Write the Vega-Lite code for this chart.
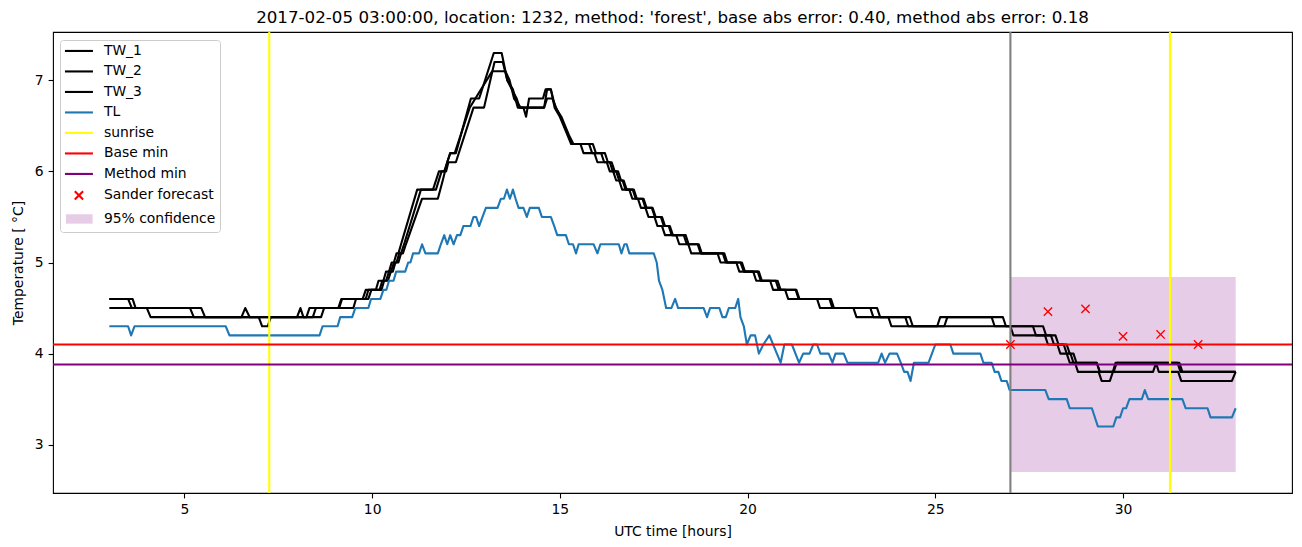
{
"$schema": "https://vega.github.io/schema/vega-lite/v6.json",
"width": 1239, "height": 461,
"autosize": {"type": "none"},
"padding": {"left": 53, "top": 32, "right": 10, "bottom": 54},
"background": "white",
"config": {
 "font": "DejaVu Sans",
 "view": {"stroke": "black", "strokeWidth": 1.1},
 "axis": {"grid": false, "domain": false, "tickColor": "black", "tickSize": 4.9, "tickWidth": 1.1, "labelFontSize": 13.9, "labelColor": "black", "labelPadding": 4.9, "titleFontSize": 13.9, "titleFontWeight": "normal", "titleColor": "black", "labelFont": "DejaVu Sans", "titleFont": "DejaVu Sans"}
},
"title": {"text": "2017-02-05 03:00:00, location: 1232, method: 'forest', base abs error: 0.40, method abs error: 0.18", "fontSize": 16.7, "fontWeight": "normal", "anchor": "middle", "frame": "group", "baseline": "alphabetic", "offset": -8.3, "color": "black", "font": "DejaVu Sans"},
"datasets": {
 "lines": [
{"s":"TW_1","t":3.0,"v":4.5},{"s":"TW_1","t":4.0,"v":4.5},{"s":"TW_1","t":4.1,"v":4.4},{"s":"TW_1","t":6.52,"v":4.4},{"s":"TW_1","t":6.62,"v":4.5},{"s":"TW_1","t":6.74,"v":4.4},{"s":"TW_1","t":8.25,"v":4.4},{"s":"TW_1","t":8.33,"v":4.5},{"s":"TW_1","t":9.1,"v":4.5},{"s":"TW_1","t":9.18,"v":4.6},{"s":"TW_1","t":9.75,"v":4.6},{"s":"TW_1","t":9.83,"v":4.7},{"s":"TW_1","t":10.1,"v":4.7},{"s":"TW_1","t":10.17,"v":4.8},{"s":"TW_1","t":10.3,"v":4.8},{"s":"TW_1","t":10.37,"v":4.9},{"s":"TW_1","t":10.45,"v":4.9},{"s":"TW_1","t":10.52,"v":5.0},{"s":"TW_1","t":10.58,"v":5.0},{"s":"TW_1","t":10.65,"v":5.1},{"s":"TW_1","t":10.7,"v":5.1},{"s":"TW_1","t":10.77,"v":5.2},{"s":"TW_1","t":11.2,"v":5.8},{"s":"TW_1","t":11.62,"v":5.8},{"s":"TW_1","t":11.78,"v":6.0},{"s":"TW_1","t":11.92,"v":6.0},{"s":"TW_1","t":12.0,"v":6.1},{"s":"TW_1","t":12.08,"v":6.2},{"s":"TW_1","t":12.23,"v":6.2},{"s":"TW_1","t":12.63,"v":6.8},{"s":"TW_1","t":12.85,"v":6.8},{"s":"TW_1","t":13.24,"v":7.3},{"s":"TW_1","t":13.45,"v":7.3},{"s":"TW_1","t":13.6,"v":7.0},{"s":"TW_1","t":13.72,"v":6.9},{"s":"TW_1","t":13.85,"v":6.8},{"s":"TW_1","t":13.93,"v":6.7},{"s":"TW_1","t":14.03,"v":6.7},{"s":"TW_1","t":14.1,"v":6.6},{"s":"TW_1","t":14.18,"v":6.8},{"s":"TW_1","t":14.55,"v":6.8},{"s":"TW_1","t":14.62,"v":6.9},{"s":"TW_1","t":14.76,"v":6.9},{"s":"TW_1","t":14.86,"v":6.7},{"s":"TW_1","t":15.0,"v":6.6},{"s":"TW_1","t":15.1,"v":6.5},{"s":"TW_1","t":15.2,"v":6.4},{"s":"TW_1","t":15.3,"v":6.3},{"s":"TW_1","t":15.55,"v":6.3},{"s":"TW_1","t":15.63,"v":6.2},{"s":"TW_1","t":15.92,"v":6.2},{"s":"TW_1","t":16.0,"v":6.1},{"s":"TW_1","t":16.25,"v":6.1},{"s":"TW_1","t":16.33,"v":6.0},{"s":"TW_1","t":16.42,"v":6.0},{"s":"TW_1","t":16.5,"v":5.9},{"s":"TW_1","t":16.58,"v":5.9},{"s":"TW_1","t":16.66,"v":5.8},{"s":"TW_1","t":16.85,"v":5.8},{"s":"TW_1","t":16.93,"v":5.7},{"s":"TW_1","t":17.08,"v":5.7},{"s":"TW_1","t":17.16,"v":5.6},{"s":"TW_1","t":17.28,"v":5.6},{"s":"TW_1","t":17.36,"v":5.5},{"s":"TW_1","t":17.52,"v":5.5},{"s":"TW_1","t":17.6,"v":5.4},{"s":"TW_1","t":17.72,"v":5.4},{"s":"TW_1","t":17.8,"v":5.3},{"s":"TW_1","t":18.1,"v":5.3},{"s":"TW_1","t":18.18,"v":5.2},{"s":"TW_1","t":18.42,"v":5.2},{"s":"TW_1","t":18.5,"v":5.1},{"s":"TW_1","t":19.2,"v":5.1},{"s":"TW_1","t":19.28,"v":5.0},{"s":"TW_1","t":19.7,"v":5.0},{"s":"TW_1","t":19.78,"v":4.9},{"s":"TW_1","t":20.15,"v":4.9},{"s":"TW_1","t":20.23,"v":4.8},{"s":"TW_1","t":20.6,"v":4.8},{"s":"TW_1","t":20.68,"v":4.7},{"s":"TW_1","t":21.0,"v":4.7},{"s":"TW_1","t":21.08,"v":4.6},{"s":"TW_1","t":21.85,"v":4.6},{"s":"TW_1","t":21.93,"v":4.5},{"s":"TW_1","t":22.82,"v":4.5},{"s":"TW_1","t":22.9,"v":4.4},{"s":"TW_1","t":23.75,"v":4.4},{"s":"TW_1","t":23.83,"v":4.3},{"s":"TW_1","t":25.05,"v":4.3},{"s":"TW_1","t":25.13,"v":4.4},{"s":"TW_1","t":26.5,"v":4.4},{"s":"TW_1","t":26.58,"v":4.3},{"s":"TW_1","t":27.0,"v":4.3},{"s":"TW_1","t":27.08,"v":4.2},{"s":"TW_1","t":27.92,"v":4.2},{"s":"TW_1","t":28.0,"v":4.1},{"s":"TW_1","t":28.25,"v":4.1},{"s":"TW_1","t":28.33,"v":4.0},{"s":"TW_1","t":28.5,"v":4.0},{"s":"TW_1","t":28.58,"v":3.9},{"s":"TW_1","t":28.72,"v":3.9},{"s":"TW_1","t":28.8,"v":3.8},{"s":"TW_1","t":29.35,"v":3.8},{"s":"TW_1","t":29.43,"v":3.7},{"s":"TW_1","t":29.65,"v":3.7},{"s":"TW_1","t":29.73,"v":3.8},{"s":"TW_1","t":29.8,"v":3.9},{"s":"TW_1","t":31.45,"v":3.9},{"s":"TW_1","t":31.53,"v":3.8},{"s":"TW_1","t":33.0,"v":3.8},
{"s":"TW_2","t":3.0,"v":4.6},{"s":"TW_2","t":3.5,"v":4.6},{"s":"TW_2","t":3.6,"v":4.5},{"s":"TW_2","t":5.15,"v":4.5},{"s":"TW_2","t":5.25,"v":4.4},{"s":"TW_2","t":6.98,"v":4.4},{"s":"TW_2","t":7.07,"v":4.3},{"s":"TW_2","t":7.22,"v":4.3},{"s":"TW_2","t":7.3,"v":4.4},{"s":"TW_2","t":8.42,"v":4.4},{"s":"TW_2","t":8.5,"v":4.5},{"s":"TW_2","t":9.12,"v":4.5},{"s":"TW_2","t":9.2,"v":4.6},{"s":"TW_2","t":9.83,"v":4.6},{"s":"TW_2","t":9.9,"v":4.7},{"s":"TW_2","t":10.2,"v":4.7},{"s":"TW_2","t":10.27,"v":4.8},{"s":"TW_2","t":10.37,"v":4.8},{"s":"TW_2","t":10.45,"v":4.9},{"s":"TW_2","t":10.5,"v":4.9},{"s":"TW_2","t":10.58,"v":5.0},{"s":"TW_2","t":10.65,"v":5.0},{"s":"TW_2","t":10.72,"v":5.1},{"s":"TW_2","t":10.77,"v":5.1},{"s":"TW_2","t":10.85,"v":5.2},{"s":"TW_2","t":11.3,"v":5.8},{"s":"TW_2","t":11.7,"v":5.8},{"s":"TW_2","t":11.85,"v":6.0},{"s":"TW_2","t":11.97,"v":6.0},{"s":"TW_2","t":12.03,"v":6.1},{"s":"TW_2","t":12.23,"v":6.1},{"s":"TW_2","t":12.7,"v":6.7},{"s":"TW_2","t":12.98,"v":6.7},{"s":"TW_2","t":13.26,"v":7.2},{"s":"TW_2","t":13.48,"v":7.2},{"s":"TW_2","t":13.6,"v":7.0},{"s":"TW_2","t":13.75,"v":6.9},{"s":"TW_2","t":13.88,"v":6.7},{"s":"TW_2","t":14.58,"v":6.7},{"s":"TW_2","t":14.66,"v":6.8},{"s":"TW_2","t":14.8,"v":6.8},{"s":"TW_2","t":14.9,"v":6.7},{"s":"TW_2","t":15.02,"v":6.6},{"s":"TW_2","t":15.12,"v":6.5},{"s":"TW_2","t":15.22,"v":6.4},{"s":"TW_2","t":15.33,"v":6.3},{"s":"TW_2","t":15.78,"v":6.3},{"s":"TW_2","t":15.86,"v":6.2},{"s":"TW_2","t":16.1,"v":6.2},{"s":"TW_2","t":16.18,"v":6.1},{"s":"TW_2","t":16.33,"v":6.1},{"s":"TW_2","t":16.41,"v":6.0},{"s":"TW_2","t":16.5,"v":6.0},{"s":"TW_2","t":16.58,"v":5.9},{"s":"TW_2","t":16.67,"v":5.9},{"s":"TW_2","t":16.75,"v":5.8},{"s":"TW_2","t":16.94,"v":5.8},{"s":"TW_2","t":17.02,"v":5.7},{"s":"TW_2","t":17.2,"v":5.7},{"s":"TW_2","t":17.28,"v":5.6},{"s":"TW_2","t":17.45,"v":5.6},{"s":"TW_2","t":17.53,"v":5.5},{"s":"TW_2","t":17.69,"v":5.5},{"s":"TW_2","t":17.77,"v":5.4},{"s":"TW_2","t":17.9,"v":5.4},{"s":"TW_2","t":17.98,"v":5.3},{"s":"TW_2","t":18.3,"v":5.3},{"s":"TW_2","t":18.38,"v":5.2},{"s":"TW_2","t":18.67,"v":5.2},{"s":"TW_2","t":18.75,"v":5.1},{"s":"TW_2","t":19.34,"v":5.1},{"s":"TW_2","t":19.42,"v":5.0},{"s":"TW_2","t":19.81,"v":5.0},{"s":"TW_2","t":19.9,"v":4.9},{"s":"TW_2","t":20.27,"v":4.9},{"s":"TW_2","t":20.35,"v":4.8},{"s":"TW_2","t":20.75,"v":4.8},{"s":"TW_2","t":20.83,"v":4.7},{"s":"TW_2","t":21.28,"v":4.7},{"s":"TW_2","t":21.36,"v":4.6},{"s":"TW_2","t":22.18,"v":4.6},{"s":"TW_2","t":22.26,"v":4.5},{"s":"TW_2","t":23.27,"v":4.5},{"s":"TW_2","t":23.35,"v":4.4},{"s":"TW_2","t":24.2,"v":4.4},{"s":"TW_2","t":24.28,"v":4.3},{"s":"TW_2","t":25.24,"v":4.3},{"s":"TW_2","t":25.32,"v":4.4},{"s":"TW_2","t":26.8,"v":4.4},{"s":"TW_2","t":26.88,"v":4.3},{"s":"TW_2","t":27.6,"v":4.3},{"s":"TW_2","t":27.68,"v":4.2},{"s":"TW_2","t":28.08,"v":4.2},{"s":"TW_2","t":28.16,"v":4.1},{"s":"TW_2","t":28.42,"v":4.1},{"s":"TW_2","t":28.5,"v":4.0},{"s":"TW_2","t":28.6,"v":4.0},{"s":"TW_2","t":28.68,"v":3.9},{"s":"TW_2","t":29.3,"v":3.9},{"s":"TW_2","t":29.38,"v":3.8},{"s":"TW_2","t":30.8,"v":3.8},{"s":"TW_2","t":30.88,"v":3.9},{"s":"TW_2","t":30.95,"v":3.8},{"s":"TW_2","t":31.47,"v":3.8},{"s":"TW_2","t":31.55,"v":3.7},{"s":"TW_2","t":32.9,"v":3.7},{"s":"TW_2","t":33.0,"v":3.8},
{"s":"TW_3","t":3.0,"v":4.6},{"s":"TW_3","t":3.62,"v":4.6},{"s":"TW_3","t":3.7,"v":4.5},{"s":"TW_3","t":5.45,"v":4.5},{"s":"TW_3","t":5.55,"v":4.4},{"s":"TW_3","t":8.0,"v":4.4},{"s":"TW_3","t":8.09,"v":4.5},{"s":"TW_3","t":8.17,"v":4.4},{"s":"TW_3","t":8.64,"v":4.4},{"s":"TW_3","t":8.72,"v":4.5},{"s":"TW_3","t":9.5,"v":4.5},{"s":"TW_3","t":9.57,"v":4.6},{"s":"TW_3","t":9.9,"v":4.6},{"s":"TW_3","t":9.98,"v":4.7},{"s":"TW_3","t":10.25,"v":4.7},{"s":"TW_3","t":10.32,"v":4.8},{"s":"TW_3","t":10.42,"v":4.8},{"s":"TW_3","t":10.5,"v":4.9},{"s":"TW_3","t":10.55,"v":4.9},{"s":"TW_3","t":10.62,"v":5.0},{"s":"TW_3","t":10.7,"v":5.0},{"s":"TW_3","t":10.77,"v":5.1},{"s":"TW_3","t":10.82,"v":5.1},{"s":"TW_3","t":10.9,"v":5.2},{"s":"TW_3","t":11.33,"v":5.7},{"s":"TW_3","t":11.75,"v":5.7},{"s":"TW_3","t":11.88,"v":5.9},{"s":"TW_3","t":12.0,"v":6.1},{"s":"TW_3","t":12.08,"v":6.2},{"s":"TW_3","t":12.2,"v":6.2},{"s":"TW_3","t":12.6,"v":6.7},{"s":"TW_3","t":12.75,"v":6.8},{"s":"TW_3","t":13.2,"v":7.1},{"s":"TW_3","t":13.55,"v":7.1},{"s":"TW_3","t":13.66,"v":7.0},{"s":"TW_3","t":13.78,"v":6.8},{"s":"TW_3","t":13.96,"v":6.7},{"s":"TW_3","t":14.58,"v":6.7},{"s":"TW_3","t":14.66,"v":6.9},{"s":"TW_3","t":14.76,"v":6.9},{"s":"TW_3","t":14.88,"v":6.7},{"s":"TW_3","t":15.04,"v":6.6},{"s":"TW_3","t":15.14,"v":6.5},{"s":"TW_3","t":15.24,"v":6.4},{"s":"TW_3","t":15.36,"v":6.3},{"s":"TW_3","t":15.88,"v":6.3},{"s":"TW_3","t":15.96,"v":6.2},{"s":"TW_3","t":16.2,"v":6.2},{"s":"TW_3","t":16.28,"v":6.1},{"s":"TW_3","t":16.38,"v":6.1},{"s":"TW_3","t":16.46,"v":6.0},{"s":"TW_3","t":16.55,"v":6.0},{"s":"TW_3","t":16.63,"v":5.9},{"s":"TW_3","t":16.7,"v":5.9},{"s":"TW_3","t":16.78,"v":5.8},{"s":"TW_3","t":16.97,"v":5.8},{"s":"TW_3","t":17.05,"v":5.7},{"s":"TW_3","t":17.23,"v":5.7},{"s":"TW_3","t":17.31,"v":5.6},{"s":"TW_3","t":17.47,"v":5.6},{"s":"TW_3","t":17.55,"v":5.5},{"s":"TW_3","t":17.72,"v":5.5},{"s":"TW_3","t":17.8,"v":5.4},{"s":"TW_3","t":17.93,"v":5.4},{"s":"TW_3","t":18.01,"v":5.3},{"s":"TW_3","t":18.35,"v":5.3},{"s":"TW_3","t":18.43,"v":5.2},{"s":"TW_3","t":18.7,"v":5.2},{"s":"TW_3","t":18.78,"v":5.1},{"s":"TW_3","t":19.38,"v":5.1},{"s":"TW_3","t":19.46,"v":5.0},{"s":"TW_3","t":19.85,"v":5.0},{"s":"TW_3","t":19.93,"v":4.9},{"s":"TW_3","t":20.3,"v":4.9},{"s":"TW_3","t":20.38,"v":4.8},{"s":"TW_3","t":20.8,"v":4.8},{"s":"TW_3","t":20.88,"v":4.7},{"s":"TW_3","t":21.3,"v":4.7},{"s":"TW_3","t":21.38,"v":4.6},{"s":"TW_3","t":22.22,"v":4.6},{"s":"TW_3","t":22.3,"v":4.5},{"s":"TW_3","t":23.45,"v":4.5},{"s":"TW_3","t":23.53,"v":4.4},{"s":"TW_3","t":24.32,"v":4.4},{"s":"TW_3","t":24.4,"v":4.3},{"s":"TW_3","t":27.87,"v":4.3},{"s":"TW_3","t":27.95,"v":4.2},{"s":"TW_3","t":28.2,"v":4.2},{"s":"TW_3","t":28.28,"v":4.1},{"s":"TW_3","t":28.5,"v":4.1},{"s":"TW_3","t":28.58,"v":4.0},{"s":"TW_3","t":28.68,"v":4.0},{"s":"TW_3","t":28.76,"v":3.9},{"s":"TW_3","t":29.3,"v":3.9},{"s":"TW_3","t":29.38,"v":3.8},{"s":"TW_3","t":29.75,"v":3.8},{"s":"TW_3","t":29.83,"v":3.9},{"s":"TW_3","t":31.5,"v":3.9},{"s":"TW_3","t":31.58,"v":3.8},{"s":"TW_3","t":33.0,"v":3.8},
{"s":"TL","t":3.0,"v":4.3},{"s":"TL","t":3.5,"v":4.3},{"s":"TL","t":3.58,"v":4.2},{"s":"TL","t":3.67,"v":4.3},{"s":"TL","t":6.1,"v":4.3},{"s":"TL","t":6.2,"v":4.2},{"s":"TL","t":8.6,"v":4.2},{"s":"TL","t":8.68,"v":4.3},{"s":"TL","t":9.08,"v":4.3},{"s":"TL","t":9.15,"v":4.4},{"s":"TL","t":9.47,"v":4.4},{"s":"TL","t":9.55,"v":4.5},{"s":"TL","t":9.9,"v":4.5},{"s":"TL","t":9.97,"v":4.6},{"s":"TL","t":10.22,"v":4.6},{"s":"TL","t":10.3,"v":4.7},{"s":"TL","t":10.38,"v":4.7},{"s":"TL","t":10.45,"v":4.8},{"s":"TL","t":10.57,"v":4.8},{"s":"TL","t":10.64,"v":4.9},{"s":"TL","t":10.88,"v":4.9},{"s":"TL","t":10.96,"v":5.0},{"s":"TL","t":11.02,"v":5.0},{"s":"TL","t":11.09,"v":5.1},{"s":"TL","t":11.25,"v":5.1},{"s":"TL","t":11.33,"v":5.2},{"s":"TL","t":11.42,"v":5.1},{"s":"TL","t":11.75,"v":5.1},{"s":"TL","t":11.83,"v":5.2},{"s":"TL","t":11.92,"v":5.3},{"s":"TL","t":12.0,"v":5.2},{"s":"TL","t":12.08,"v":5.3},{"s":"TL","t":12.17,"v":5.2},{"s":"TL","t":12.26,"v":5.3},{"s":"TL","t":12.35,"v":5.3},{"s":"TL","t":12.43,"v":5.4},{"s":"TL","t":12.62,"v":5.4},{"s":"TL","t":12.7,"v":5.5},{"s":"TL","t":12.77,"v":5.5},{"s":"TL","t":12.85,"v":5.4},{"s":"TL","t":12.94,"v":5.5},{"s":"TL","t":13.03,"v":5.6},{"s":"TL","t":13.34,"v":5.6},{"s":"TL","t":13.43,"v":5.7},{"s":"TL","t":13.51,"v":5.7},{"s":"TL","t":13.59,"v":5.8},{"s":"TL","t":13.67,"v":5.7},{"s":"TL","t":13.75,"v":5.8},{"s":"TL","t":13.82,"v":5.7},{"s":"TL","t":13.9,"v":5.6},{"s":"TL","t":14.03,"v":5.6},{"s":"TL","t":14.12,"v":5.5},{"s":"TL","t":14.2,"v":5.6},{"s":"TL","t":14.44,"v":5.6},{"s":"TL","t":14.52,"v":5.5},{"s":"TL","t":14.76,"v":5.5},{"s":"TL","t":14.85,"v":5.4},{"s":"TL","t":14.93,"v":5.3},{"s":"TL","t":15.16,"v":5.3},{"s":"TL","t":15.24,"v":5.2},{"s":"TL","t":15.35,"v":5.2},{"s":"TL","t":15.43,"v":5.1},{"s":"TL","t":15.5,"v":5.2},{"s":"TL","t":15.9,"v":5.2},{"s":"TL","t":16.0,"v":5.1},{"s":"TL","t":16.08,"v":5.2},{"s":"TL","t":16.57,"v":5.2},{"s":"TL","t":16.64,"v":5.1},{"s":"TL","t":16.72,"v":5.2},{"s":"TL","t":16.78,"v":5.2},{"s":"TL","t":16.85,"v":5.1},{"s":"TL","t":17.5,"v":5.1},{"s":"TL","t":17.58,"v":5.0},{"s":"TL","t":17.64,"v":4.8},{"s":"TL","t":17.73,"v":4.7},{"s":"TL","t":17.83,"v":4.5},{"s":"TL","t":17.97,"v":4.5},{"s":"TL","t":18.07,"v":4.6},{"s":"TL","t":18.15,"v":4.5},{"s":"TL","t":18.83,"v":4.5},{"s":"TL","t":18.92,"v":4.4},{"s":"TL","t":19.0,"v":4.5},{"s":"TL","t":19.25,"v":4.5},{"s":"TL","t":19.33,"v":4.4},{"s":"TL","t":19.42,"v":4.4},{"s":"TL","t":19.5,"v":4.5},{"s":"TL","t":19.67,"v":4.5},{"s":"TL","t":19.75,"v":4.6},{"s":"TL","t":19.81,"v":4.4},{"s":"TL","t":19.9,"v":4.3},{"s":"TL","t":19.98,"v":4.1},{"s":"TL","t":20.08,"v":4.2},{"s":"TL","t":20.2,"v":4.2},{"s":"TL","t":20.3,"v":4.0},{"s":"TL","t":20.42,"v":4.1},{"s":"TL","t":20.58,"v":4.2},{"s":"TL","t":20.68,"v":4.1},{"s":"TL","t":20.78,"v":4.0},{"s":"TL","t":20.88,"v":3.9},{"s":"TL","t":20.98,"v":4.1},{"s":"TL","t":21.18,"v":4.1},{"s":"TL","t":21.37,"v":3.9},{"s":"TL","t":21.48,"v":4.0},{"s":"TL","t":21.65,"v":4.0},{"s":"TL","t":21.75,"v":4.1},{"s":"TL","t":21.85,"v":4.1},{"s":"TL","t":21.94,"v":4.0},{"s":"TL","t":22.16,"v":4.0},{"s":"TL","t":22.26,"v":3.9},{"s":"TL","t":22.34,"v":4.0},{"s":"TL","t":22.56,"v":4.0},{"s":"TL","t":22.66,"v":3.9},{"s":"TL","t":23.48,"v":3.9},{"s":"TL","t":23.57,"v":4.0},{"s":"TL","t":23.66,"v":3.9},{"s":"TL","t":23.78,"v":4.0},{"s":"TL","t":23.98,"v":4.0},{"s":"TL","t":24.08,"v":3.9},{"s":"TL","t":24.17,"v":3.8},{"s":"TL","t":24.26,"v":3.8},{"s":"TL","t":24.34,"v":3.7},{"s":"TL","t":24.43,"v":3.9},{"s":"TL","t":24.82,"v":3.9},{"s":"TL","t":24.91,"v":4.0},{"s":"TL","t":25.0,"v":4.1},{"s":"TL","t":25.4,"v":4.1},{"s":"TL","t":25.48,"v":4.0},{"s":"TL","t":26.2,"v":4.0},{"s":"TL","t":26.28,"v":3.9},{"s":"TL","t":26.5,"v":3.9},{"s":"TL","t":26.58,"v":3.8},{"s":"TL","t":26.68,"v":3.8},{"s":"TL","t":26.76,"v":3.7},{"s":"TL","t":26.9,"v":3.7},{"s":"TL","t":26.98,"v":3.6},{"s":"TL","t":27.93,"v":3.6},{"s":"TL","t":28.02,"v":3.5},{"s":"TL","t":28.5,"v":3.5},{"s":"TL","t":28.58,"v":3.4},{"s":"TL","t":29.17,"v":3.4},{"s":"TL","t":29.33,"v":3.2},{"s":"TL","t":29.74,"v":3.2},{"s":"TL","t":29.82,"v":3.3},{"s":"TL","t":29.92,"v":3.3},{"s":"TL","t":30.0,"v":3.4},{"s":"TL","t":30.08,"v":3.4},{"s":"TL","t":30.17,"v":3.5},{"s":"TL","t":30.5,"v":3.5},{"s":"TL","t":30.58,"v":3.6},{"s":"TL","t":30.67,"v":3.5},{"s":"TL","t":31.58,"v":3.5},{"s":"TL","t":31.67,"v":3.4},{"s":"TL","t":32.25,"v":3.4},{"s":"TL","t":32.33,"v":3.3},{"s":"TL","t":32.9,"v":3.3},{"s":"TL","t":33.0,"v":3.4}
 ]
},
"layer": [
 {
  "data": {"values": [{"t0": 27, "t1": 33, "lo": 2.7, "hi": 4.84}]},
  "mark": {"type": "rect", "fill": "#800080", "fillOpacity": 0.2, "strokeWidth": 0},
  "encoding": {
   "x": {"field": "t0", "type": "quantitative", "scale": {"domain": [1.5, 34.5], "nice": false, "zero": false}},
   "x2": {"field": "t1"},
   "y": {"field": "lo", "type": "quantitative", "scale": {"domain": [2.47, 7.53], "nice": false, "zero": false}},
   "y2": {"field": "hi"}
  }
 },
 {
  "data": {"name": "lines"},
  "mark": {"type": "line", "strokeWidth": 2.1, "strokeJoin": "round"},
  "encoding": {
   "x": {"field": "t", "type": "quantitative", "scale": {"domain": [1.5, 34.5], "nice": false, "zero": false},
         "axis": {"values": [5, 10, 15, 20, 25, 30], "format": "d", "title": "UTC time [hours]", "titlePadding": 8}},
   "y": {"field": "v", "type": "quantitative", "scale": {"domain": [2.47, 7.53], "nice": false, "zero": false},
         "axis": {"values": [3, 4, 5, 6, 7], "format": "d", "title": "Temperature [ °C]", "titlePadding": 9}},
   "color": {"field": "s", "type": "nominal",
     "scale": {"domain": ["TW_1", "TW_2", "TW_3", "TL", "sunrise", "Base min", "Method min", "Sander forecast", "95% confidence"],
               "range": ["#000000", "#000000", "#000000", "#1f77b4", "#ffff00", "#ff0000", "#800080", "#ff0000", "transparent"]},
     "legend": {"title": null, "orient": "none", "legendX": 7, "legendY": 8, "padding": 4, "rowPadding": 5.5,
       "labelFontSize": 13.9, "labelFont": "DejaVu Sans", "labelColor": "black", "labelOffset": 26, "labelLimit": 300,
       "symbolSize": 100, "symbolStrokeWidth": 2.1, "strokeColor": "#cccccc", "fillColor": "rgba(255,255,255,0.8)", "cornerRadius": 3}
   }
  }
 },
 {
  "data": {"values": []},
  "mark": {"type": "point", "opacity": 1, "filled": false},
  "encoding": {
   "shape": {"field": "s", "type": "nominal",
     "scale": {"domain": ["TW_1", "TW_2", "TW_3", "TL", "sunrise", "Base min", "Method min", "Sander forecast", "95% confidence"],
               "range": ["M-1.2,0H4.4", "M-1.2,0H4.4", "M-1.2,0H4.4", "M-1.2,0H4.4", "M-1.2,0H4.4", "M-1.2,0H4.4", "M-1.2,0H4.4", "M0.77,-0.83L2.43,0.83M0.77,0.83L2.43,-0.83", "M-1,-0.94H4.33V0.94H-1Z"]}},
   "fill": {"field": "s", "type": "nominal",
     "scale": {"domain": ["TW_1", "TW_2", "TW_3", "TL", "sunrise", "Base min", "Method min", "Sander forecast", "95% confidence"],
               "range": ["transparent", "transparent", "transparent", "transparent", "transparent", "transparent", "transparent", "transparent", "#e6cce6"]}}
  }
 },
 {
  "data": {"values": [{"t": 7.26}, {"t": 31.25}]},
  "mark": {"type": "rule", "color": "#ffff00", "strokeWidth": 2.1},
  "encoding": {"x": {"field": "t", "type": "quantitative", "scale": {"domain": [1.5, 34.5], "nice": false, "zero": false}}}
 },
 {
  "data": {"values": [{"t": 27}]},
  "mark": {"type": "rule", "color": "#808080", "strokeWidth": 2.1},
  "encoding": {"x": {"field": "t", "type": "quantitative", "scale": {"domain": [1.5, 34.5], "nice": false, "zero": false}}}
 },
 {
  "data": {"values": [{"v": 4.1}]},
  "mark": {"type": "rule", "color": "#ff0000", "strokeWidth": 2.1},
  "encoding": {"y": {"field": "v", "type": "quantitative", "scale": {"domain": [2.47, 7.53], "nice": false, "zero": false}}}
 },
 {
  "data": {"values": [{"v": 3.88}]},
  "mark": {"type": "rule", "color": "#800080", "strokeWidth": 2.1},
  "encoding": {"y": {"field": "v", "type": "quantitative", "scale": {"domain": [2.47, 7.53], "nice": false, "zero": false}}}
 },
 {
  "data": {"values": [{"t": 27, "f": 4.1}, {"t": 28, "f": 4.46}, {"t": 29, "f": 4.49}, {"t": 30, "f": 4.19}, {"t": 31, "f": 4.21}, {"t": 32, "f": 4.1}]},
  "mark": {"type": "point", "shape": "M-1,-1L1,1M-1,1L1,-1", "size": 69, "filled": false, "stroke": "#ff0000", "strokeWidth": 1.4, "opacity": 1},
  "encoding": {
   "x": {"field": "t", "type": "quantitative", "scale": {"domain": [1.5, 34.5], "nice": false, "zero": false}},
   "y": {"field": "f", "type": "quantitative", "scale": {"domain": [2.47, 7.53], "nice": false, "zero": false}}
  }
 }
]
}
